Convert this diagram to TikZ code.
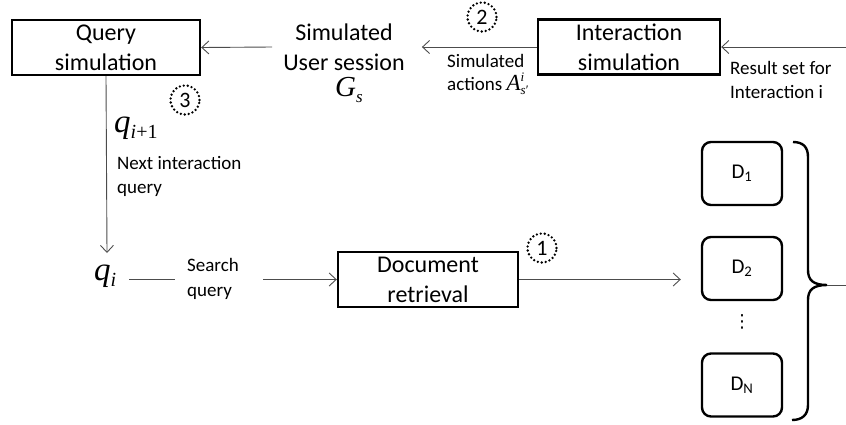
\documentclass[tikz,border=0pt]{standalone}
\usepackage{fontspec}
\setmainfont{Carlito}
\newfontfamily\tms{Liberation Serif}
\newfontfamily\dejavu{DejaVu Sans}
\usetikzlibrary{arrows.meta}
\newcommand\mvar[1]{{\tms\itshape #1}}
\newcommand\fsz[1]{\fontsize{#1}{#1}\selectfont}
\begin{document}
\begin{tikzpicture}[x=1pt,y=-1pt,
  box/.style={draw, line width=2.4pt, minimum height=55pt, align=center,
    font=\fontsize{24}{30}\selectfont, inner sep=0pt},
  big/.style={font=\fontsize{24}{30}\selectfont, align=center, inner sep=0pt},
  lbl/.style={font=\fontsize{19}{24}\selectfont, inner sep=0pt, anchor=base west},
  conn/.style={draw=black!70, line width=0.9pt},
  arr/.style={conn, -{Straight Barb[length=7pt,width=13pt]}},
  num/.style={circle, draw, line width=2.6pt, line cap=round,
    dash pattern=on 0pt off 4pt, minimum size=29pt,
    inner sep=0pt, font=\fontsize{22}{22}\selectfont},
  doc/.style={draw, rounded corners=9pt, line width=2.4pt, minimum width=80pt,
    minimum height=63pt, inner sep=0pt, font=\fontsize{21}{21}\selectfont}]
\useasboundingbox (0,0) rectangle (846,424);

% main boxes
\node[box, minimum width=188pt] (qs) at (106,47.5) {Query\\simulation};
\node[box, minimum width=182pt] (is) at (629,47) {Interaction\\simulation};
\node[box, minimum width=180pt] (dr) at (428,279.5) {Document\\retrieval};

% simulated user session
\node[big] (us) at (344,47) {Simulated\\User session};
\node[inner sep=0pt] (gs) at (349,90) {\fsz{29}\mvar{G}\raisebox{-6pt}{\fsz{17}\mvar{s}}};

% numbered markers
\node[num] (n3) at (185,100) {3};
\node[num] (n2) at (482,17) {2};
\node[num] (n1) at (542,248) {1};

% labels
\node[lbl] (l2a) at (447,67) {Simulated};
\node[lbl] (l2b) at (447,90) {actions \fsz{23}\mvar{A}\rlap{\raisebox{9pt}{\fsz{13}\mvar{i}}}\raisebox{-4pt}{\fsz{13}\mvar{s}{\tms ′}}};
\node[lbl] (lr1) at (730,74) {Result set for};
\node[lbl] (lr2) at (730,98) {Interaction i};
\node[inner sep=0pt, anchor=west] (qn) at (114,128) {\fsz{33}\mvar{q}\raisebox{-6pt}{\fsz{20}\mvar{i}{\tms +1}}};
\node[lbl] (ln1) at (117,169) {Next interaction};
\node[lbl] (ln2) at (117,193) {query};
\node[inner sep=0pt, anchor=west] (qi) at (94,276) {\fsz{33}\mvar{q}\raisebox{-6pt}{\fsz{20}\mvar{i}}};
\node[lbl] (sq1) at (187,271) {Search};
\node[lbl] (sq2) at (187,296) {query};

% documents
\node[doc] (d1) at (742,173.5) {D\textsubscript{1}};
\node[doc] (d2) at (742,268.5) {D\textsubscript{2}};
\node[doc] (dn) at (742,385) {D\textsubscript{N}};
\node[inner sep=0pt, font=\fsz{18}\dejavu] (dots) at (742,322) {⋮};

% brace
\draw[line width=2.4pt] (793,142) .. controls (803,142) and (808,147) .. (808,157)
  -- (808,270) .. controls (808,280) and (813,285) .. (827,285)
  .. controls (813,285) and (808,290) .. (808,300)
  -- (808,405) .. controls (808,415) and (802,420) .. (792,420);
\coordinate (bt) at (827,285);
\coordinate (redge) at (846,285);
\coordinate (rin) at (846,47);
\coordinate (qtip) at (107,253);

% connectors
\draw[conn] (bt) -- (redge);
\draw[arr] (rin) -- (is.east);
\draw[arr] (is.west) -- ([xshift=17pt]us.east);
\draw[arr] ([xshift=-11pt]us.west) -- (qs.east);
\draw[arr] (qs.south) -- (qtip);
\draw[conn] ([xshift=13pt]qi.east |- dr.west) -- ([xshift=-12pt]sq1.west |- dr.west);
\draw[arr] ([xshift=76pt]sq1.west |- dr.west) -- (dr.west);
\draw[arr] (dr.east) -- ([xshift=-20pt]dr.east -| d2.west);
\end{tikzpicture}
\end{document}
